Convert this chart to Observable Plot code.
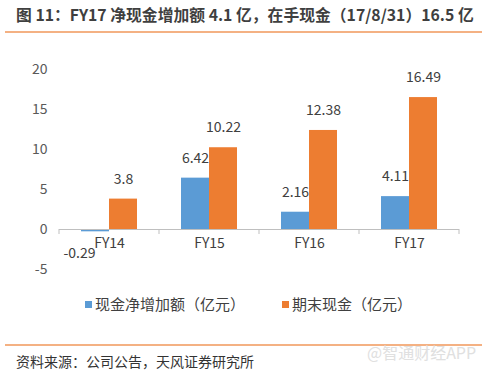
<!DOCTYPE html>
<html>
<head>
<meta charset="utf-8">
<script src="https://cdn.jsdelivr.net/npm/d3@7"></script>
<script src="https://cdn.jsdelivr.net/npm/@observablehq/plot@0.6"></script>
<style>
  html, body { margin: 0; padding: 0; background: #fff; }
  body { width: 487px; height: 370px; position: relative; overflow: hidden;
         font-family: "Noto Sans CJK SC", "Noto Sans", sans-serif; color: #404040; }
  .abs { position: absolute; }
  #title { left: 16px; top: 4px; font-size: 15.8px; font-weight: bold; line-height: 21px; white-space: nowrap; color: #3f3f3f; }
  .rule { left: 5px; width: 477px; height: 2px; background: #F4B183; }
  #chart { left: 0; top: 40px; }
  #legend { top: 294px; left: 0; font-size: 15px; line-height: 20px; white-space: nowrap; }
  .sw { display: inline-block; width: 7px; height: 7px; margin-right: 3px; vertical-align: 2px; }
  #source { left: 16px; top: 353px; font-size: 14px; line-height: 16px; color: #333; white-space: nowrap; }
  #wm { left: 367px; top: 342px; font-size: 16px; line-height: 20px; color: #e0e0e0; white-space: nowrap; }
</style>
</head>
<body>
<div id="title" class="abs"></div>
<div class="abs rule" style="top:31px"></div>
<div id="chart" class="abs"></div>
<div id="legend" class="abs"></div>
<div class="abs rule" style="top:344px"></div>
<div id="wm" class="abs">@智通财经APP</div>
<div id="source" class="abs"></div>
<script>
const titleText = "图 11：FY17 净现金增加额 4.1 亿，在手现金（17/8/31）16.5 亿";
const sourceText = "资料来源：公司公告，天风证券研究所";
const categories = ["FY14", "FY15", "FY16", "FY17"];
const seriesNames = ["现金净增加额（亿元）", "期末现金（亿元）"];
const netIncrease = [-0.29, 6.42, 2.16, 4.11];
const endingCash = [3.8, 10.22, 12.38, 16.49];
const seriesColors = ["#5B9BD5", "#ED7D31"];
const yTicks = [-5, 0, 5, 10, 15, 20];

document.getElementById("title").textContent = titleText;
document.getElementById("source").textContent = sourceText;

const rows = [];
categories.forEach((c, i) => {
  rows.push({cat: c, series: seriesNames[0], value: netIncrease[i]});
  rows.push({cat: c, series: seriesNames[1], value: endingCash[i]});
});

const font = '"Noto Sans CJK SC", "Noto Sans", sans-serif';

const chart = Plot.plot({
  width: 487,
  height: 240,
  marginLeft: 59,
  marginRight: 28,
  marginTop: 29,
  marginBottom: 11,
  style: {fontFamily: font, fontSize: "14px", color: "#595959", background: "transparent", overflow: "visible"},
  facet: {data: rows, x: "cat"},
  fx: {domain: categories, paddingInner: 0, paddingOuter: 0, axis: null, label: null},
  x: {domain: seriesNames, paddingInner: 0, paddingOuter: 0.754, axis: null, label: null},
  y: {domain: [-5, 20], ticks: yTicks, tickSize: 0, tickPadding: 12, label: null, tickFormat: d => String(d)},
  color: {domain: seriesNames, range: seriesColors},
  marks: [
    Plot.barY(rows, {x: "series", y: "value", fill: "series"}),
    Plot.ruleY([0], {stroke: "#BFBFBF", strokeWidth: 1}),
    Plot.text(rows, {filter: d => d.value >= 0, x: "series", y: "value", text: d => String(d.value), dy: -20, fill: "#404040", fontSize: 14}),
    Plot.text(rows, {filter: d => d.value < 0, x: "series", y: "value", text: d => String(d.value), dy: 22, dx: -16, fill: "#404040", fontSize: 14}),
    Plot.text(rows, {filter: d => d.series === seriesNames[0], y: d => 0, text: "cat", dy: 14, fill: "#404040", fontSize: 14})
  ]
});

document.getElementById("chart").appendChild(chart);

// category boundary ticks on the zero line, using the plot's own scales
const fxd = chart.scale("fx");
const yd = chart.scale("y");
const fx = d3.scaleBand().domain(fxd.domain).range(fxd.range)
  .paddingInner(fxd.paddingInner || 0).paddingOuter(fxd.paddingOuter || 0);
const y = d3.scaleLinear().domain(yd.domain).range(yd.range);
const bounds = fx.domain().map(c => fx(c)).concat([fx(fx.domain()[fx.domain().length - 1]) + fx.bandwidth()]);
const svg = d3.select(chart.tagName.toLowerCase() === "svg" ? chart : chart.querySelector("svg"));
svg.append("g").selectAll("line").data(bounds).join("line")
  .attr("x1", d => d).attr("x2", d => d)
  .attr("y1", y(0)).attr("y2", y(0) + 5)
  .attr("stroke", "#BFBFBF").attr("stroke-width", 1);

// legend
const legend = document.getElementById("legend");
const lpos = [85, 282];
seriesNames.forEach((s, i) => {
  const item = document.createElement("div");
  item.className = "abs";
  item.style.left = lpos[i] + "px";
  item.style.top = "0px";
  const sw = document.createElement("span");
  sw.className = "sw";
  sw.style.background = seriesColors[i];
  item.appendChild(sw);
  item.appendChild(document.createTextNode(s));
  legend.appendChild(item);
});
</script>
</body>
</html>
